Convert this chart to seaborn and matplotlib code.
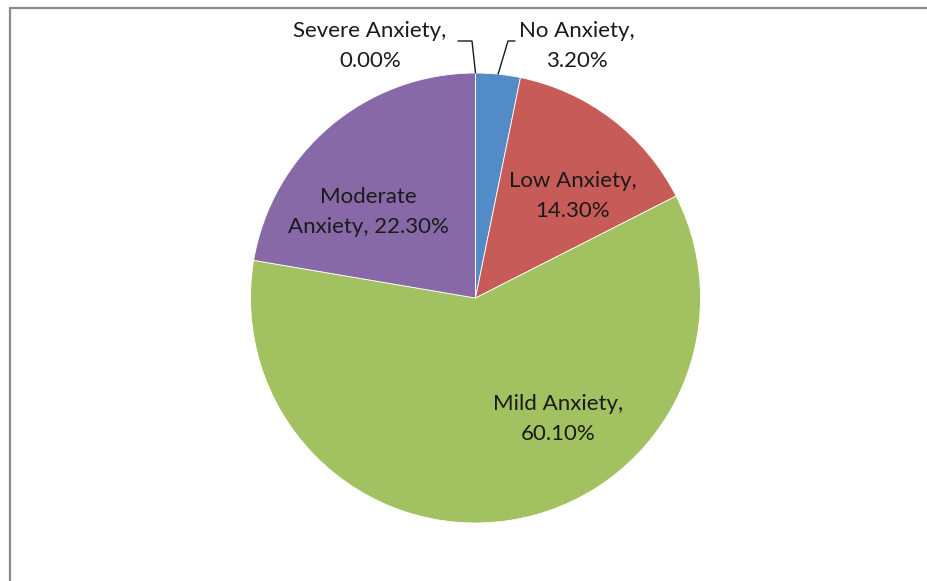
# ------------------
# モジュールインポート
# ------------------
import numpy as np
import matplotlib.pyplot as plt
import seaborn as sns


# ------------------
# データ
# ------------------
LABELS = ['No Anxiety', 'Low Anxiety', 'Mild Anxiety', 'Moderate Anxiety', 'Severe Anxiety']
VALUES = [3.2, 14.3, 60.1, 22.3, 0.0]
COLORS = ['#528BC6', '#C75B57', '#A2C160', '#8769A8', '#F79646']

# ラベル表示用テキスト
TEXTS = ['No Anxiety,\n3.20%', 'Low Anxiety,\n14.30%', 'Mild Anxiety,\n60.10%',
         'Moderate\nAnxiety, 22.30%', 'Severe Anxiety,\n0.00%']


# ------------------
# 定数パラメータ設定
# ------------------
W, H = 927, 581
CX, CY, R = 475.5, 581 - 298, 225
OUT_FILE = 'out.png'

# ラベル位置 (ピクセル、上からの座標)
LABEL_POS = [(577, 46), (573, 196), (558, 419), (368, 212), (370, 46)]
# 引き出し線の水平部分 (ピクセル)
LEADER_END = {0: 515, 4: 458}
LEADER_KNEE = {0: 508, 4: 472}
LEADER_Y = 41


def make_figure():
    sns.set_theme(style='white')
    plt.rcParams['font.family'] = ['Lato', 'DejaVu Sans']

    fig = plt.figure(figsize=(W / 100, H / 100), dpi=100)
    ax = fig.add_axes([0, 0, 1, 1])

    # 円グラフ (12時から時計回り)
    ax.pie(VALUES, colors=COLORS, startangle=90, counterclock=False,
           center=(CX, CY), radius=R, frame=True,
           wedgeprops=dict(edgecolor='white', linewidth=0.6))
    ax.set_xlim(0, W)
    ax.set_ylim(0, H)
    ax.set_aspect('auto')
    ax.axis('off')

    # ラベル
    for i, t in enumerate(TEXTS):
        x, y = LABEL_POS[i]
        ax.text(x, H - y, t, ha='center', va='center', fontsize=16,
                color='#1a1a1a', linespacing=1.65)

    # 引き出し線 (小さいスライス)
    total = sum(VALUES)
    cum = np.cumsum([0] + VALUES)
    for i in LEADER_END:
        mid = 90 - (cum[i] + VALUES[i] / 2) / total * 360
        px = CX + R * np.cos(np.radians(mid))
        py = CY + R * np.sin(np.radians(mid))
        ax.plot([LEADER_END[i], LEADER_KNEE[i], px], [H - LEADER_Y, H - LEADER_Y, py],
                color='#1a1a1a', linewidth=1.0)

    # 枠線 (上と左)
    ax.plot([10.5, W], [H - 7.5, H - 7.5], color='#8c8c8c', linewidth=1.6, clip_on=False)
    ax.plot([10.5, 10.5], [0, H - 7.5], color='#8c8c8c', linewidth=1.6, clip_on=False)

    fig.savefig(OUT_FILE, dpi=100, facecolor='white')


def main():
    make_figure()


if __name__ == '__main__':
    main()
